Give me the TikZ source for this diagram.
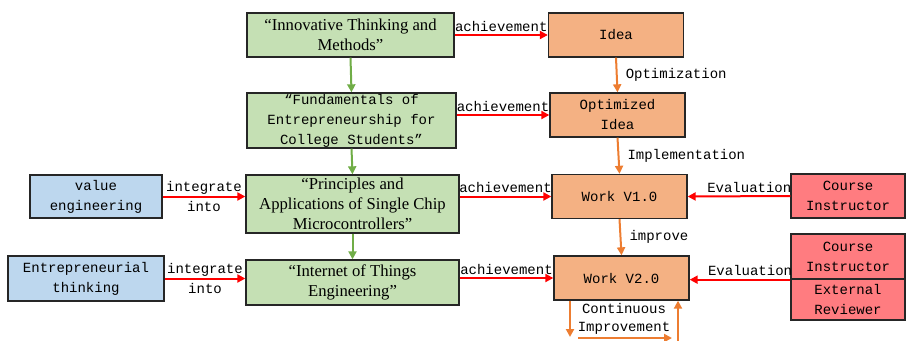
\documentclass[tikz,border=0pt]{standalone}
\usepackage{fontspec}
\setmainfont{Liberation Serif}
\setmonofont{Liberation Mono}
\usetikzlibrary{arrows.meta}
\usetikzlibrary{calc}
\definecolor{boxgreen}{RGB}{197,224,180}
\definecolor{boxorange}{RGB}{244,177,131}
\definecolor{boxblue}{RGB}{189,215,238}
\definecolor{boxred}{RGB}{255,124,128}
\definecolor{arrowgreen}{RGB}{112,173,71}
\definecolor{arroworange}{RGB}{237,125,49}
\tikzstyle{box}=[draw=black!85,line width=1pt,inner sep=0pt,align=center]
\tikzstyle{coursebox}=[box,fill=boxgreen,font=\fontsize{12.5}{15}\selectfont]
\tikzstyle{monocoursebox}=[box,fill=boxgreen,font=\ttfamily\fontsize{10.5}{15}\selectfont]
\tikzstyle{workbox}=[box,fill=boxorange,font=\ttfamily\fontsize{10.5}{15}\selectfont,minimum width=101.25pt,minimum height=33pt]
\tikzstyle{conceptbox}=[box,fill=boxblue,font=\ttfamily\fontsize{10.5}{15}\selectfont]
\tikzstyle{judgebox}=[box,fill=boxred,font=\ttfamily\fontsize{10.5}{15}\selectfont,minimum width=85.5pt]
\tikzstyle{weight}=[text=black,font=\ttfamily\fontsize{10.5}{15}\selectfont,inner sep=2pt,align=center]
\tikzstyle{redarrow}=[red,line width=1.5pt,-{Triangle[length=6pt,width=6pt]}]
\tikzstyle{greenarrow}=[arrowgreen,line width=1.5pt,-{Triangle[length=6pt,width=6pt]}]
\tikzstyle{orangearrow}=[arroworange,line width=1.5pt,-{Triangle[length=6pt,width=6pt]}]

\begin{document}
\begin{tikzpicture}[x=0.75pt,y=-0.75pt]
\useasboundingbox (0,0) rectangle (906,340);

%courses
\node[coursebox,minimum width=155.25pt,minimum height=33pt] (g1) at (350.5,35) {“Innovative Thinking and\\Methods”};
\node[monocoursebox,minimum width=156.75pt,minimum height=41.25pt] (g2) at (351.5,120.5) {“Fundamentals of\\Entrepreneurship for\\College Students”};
\node[coursebox,minimum width=159.75pt,minimum height=43.5pt] (g3) at (352.5,204) {“Principles and\\Applications of Single Chip\\Microcontrollers”};
\node[coursebox,minimum width=159.75pt,minimum height=33.75pt] (g4) at (352.5,282.5) {“Internet of Things\\Engineering”};

%results
\foreach \pos/\name/\label in {{(616,35)/o1/Idea}, {(617.5,115)/o2/Optimized\\Idea}, {(619.5,196.5)/o3/Work V1.0}, {(621.5,278)/o4/Work V2.0}}
    \node[workbox] (\name) at \pos {\label};

%concepts
\node[conceptbox,minimum width=99pt,minimum height=32.25pt] (b1) at (96,196.5) {value\\engineering};
\node[conceptbox,minimum width=117pt,minimum height=33.75pt] (b2) at (86,278.5) {Entrepreneurial\\thinking};

%evaluators
\node[judgebox,minimum height=33pt] (r1) at (848,196) {Course\\Instructor};
\node[judgebox,minimum height=33.75pt] (r2) at (848,256.5) {Course\\Instructor};
\node[judgebox,minimum height=30.75pt] (r3) at (848,299.5) {External\\Reviewer};

\foreach \source/\dest in {g1/g2, g2/g3, g3/g4}
    \draw[greenarrow] (\source.south) -- (\dest.north);
\foreach \source/\dest in {g1/o1, g2/o2, g3/o3, g4/o4}
    \draw[redarrow] (\source.east |- \dest.west) -- node[weight,above] {achievement} (\dest.west);
\foreach \source/\dest in {b1/g3, b2/g4}
    \draw[redarrow] (\source.east) -- node[weight] {integrate\\into} (\dest.west |- \source.east);
\foreach \source/\dest/\weight in {o1/o2/Optimization, o2/o3/Implementation, o3/o4/improve}
    \draw[orangearrow] (\source.south) -- node[weight,right,inner sep=6pt] {\weight} (\dest.north);

\draw[redarrow] (r1.west) -- node[weight,above,pos=0.4] {Evaluation} (o3.east);
\draw[redarrow] (r2.south west) -- node[weight,above,pos=0.4] {Evaluation} (o4.east |- r2.south west);

%continuous improvement loop
\coordinate (loopa) at (570,337);
\coordinate (loopb) at (578,338);
\coordinate (loopc) at (672,338);
\coordinate (loopd) at (678,342);
\draw[orangearrow] (loopa |- o4.south) -- (loopa);
\draw[orangearrow] (loopb) -- (loopc);
\draw[orangearrow] (loopd) -- (loopd |- o4.south);
\node[weight,font=\ttfamily\fontsize{10.5}{13.5}\selectfont] (cont) at (624,319) {Continuous\\Improvement};

\end{tikzpicture}
\end{document}
